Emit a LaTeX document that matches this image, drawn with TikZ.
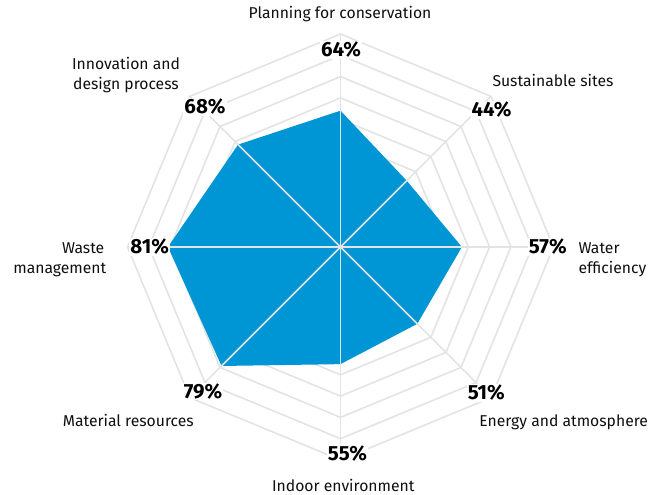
\documentclass[tikz,border=0pt]{standalone}
\usepackage{fontspec}
\setmainfont{Fira Sans}
\definecolor{gridgray}{RGB}{226,228,228}
\definecolor{hpblue}{RGB}{0,150,214}
\definecolor{labelblack}{RGB}{15,15,15}
\begin{document}
\begin{tikzpicture}[x=1pt,y=1pt,
  grid/.style={draw=gridgray, line width=1.6pt, line join=miter},
  lbl/.style={font=\fontsize{15.7}{18}\selectfont, inner sep=0pt, text=labelblack, anchor=base},
  pct/.style={font=\fontsize{20.5}{24}\selectfont\bfseries, inner sep=1pt, fill=white, text=black, anchor=base},
]
\useasboundingbox (-340.5,-248) rectangle (318.5,247);
\coordinate (c) at (0,0);
% rings
\foreach \k in {1,...,10}{
  \pgfmathsetmacro{\r}{21.3*\k}
  \draw[grid] (90:\r) -- (45:\r) -- (0:\r) -- (-45:\r) -- (-90:\r) -- (-135:\r) -- (180:\r) -- (135:\r) -- cycle;
}
% data polygon
\fill[hpblue] (90:0.64*213) -- (45:0.44*213) -- (0:0.57*213) -- (-45:0.51*213)
  -- (-90:0.55*213) -- (-135:0.79*213) -- (180:0.81*213) -- (135:0.68*213) -- cycle;
% spokes
\foreach \a/\n in {90/top,45/ne,0/e,-45/se,-90/bot,-135/sw,180/w,135/nw}{
  \coordinate (s\n) at (\a:213);
  \draw[grid] (c) -- (s\n);
}
% percentages
\node[pct] (p1) at (0.5,190.3) {64\%};
\node[pct] (p2) at (151,130.3) {44\%};
\node[pct] (p3) at (207.3,-7) {57\%};
\node[pct] (p4) at (145.8,-153) {51\%};
\node[pct] (p5) at (7,-213) {55\%};
\node[pct] (p6) at (-137.5,-151.3) {79\%};
\node[pct] (p7) at (-190.8,-7) {81\%};
\node[pct] (p8) at (-135.5,133) {68\%};
% category labels
\node[lbl] (l1) at (-0.5,228.7) {Planning for conservation};
\node[lbl] (l2) at (212.5,160.3) {Sustainable sites};
\node[lbl, anchor=base west] (l3a) at (237.8,-6.3) {Water};
\node[lbl, anchor=base west] (l3b) at (237.8,-27) {efficiency};
\node[lbl] (l4) at (223.2,-179) {Energy and atmosphere};
\node[lbl] (l5) at (2.8,-244) {Indoor environment};
\node[lbl] (l6) at (-212.2,-179) {Material resources};
\node[lbl, anchor=base east] (l7a) at (-236,-6.3) {Waste};
\node[lbl, anchor=base east] (l7b) at (-234,-27) {management};
\node[lbl] (l8a) at (-214.5,177) {Innovation and};
\node[lbl] (l8b) at (-214.5,157) {design process};
\end{tikzpicture}
\end{document}
